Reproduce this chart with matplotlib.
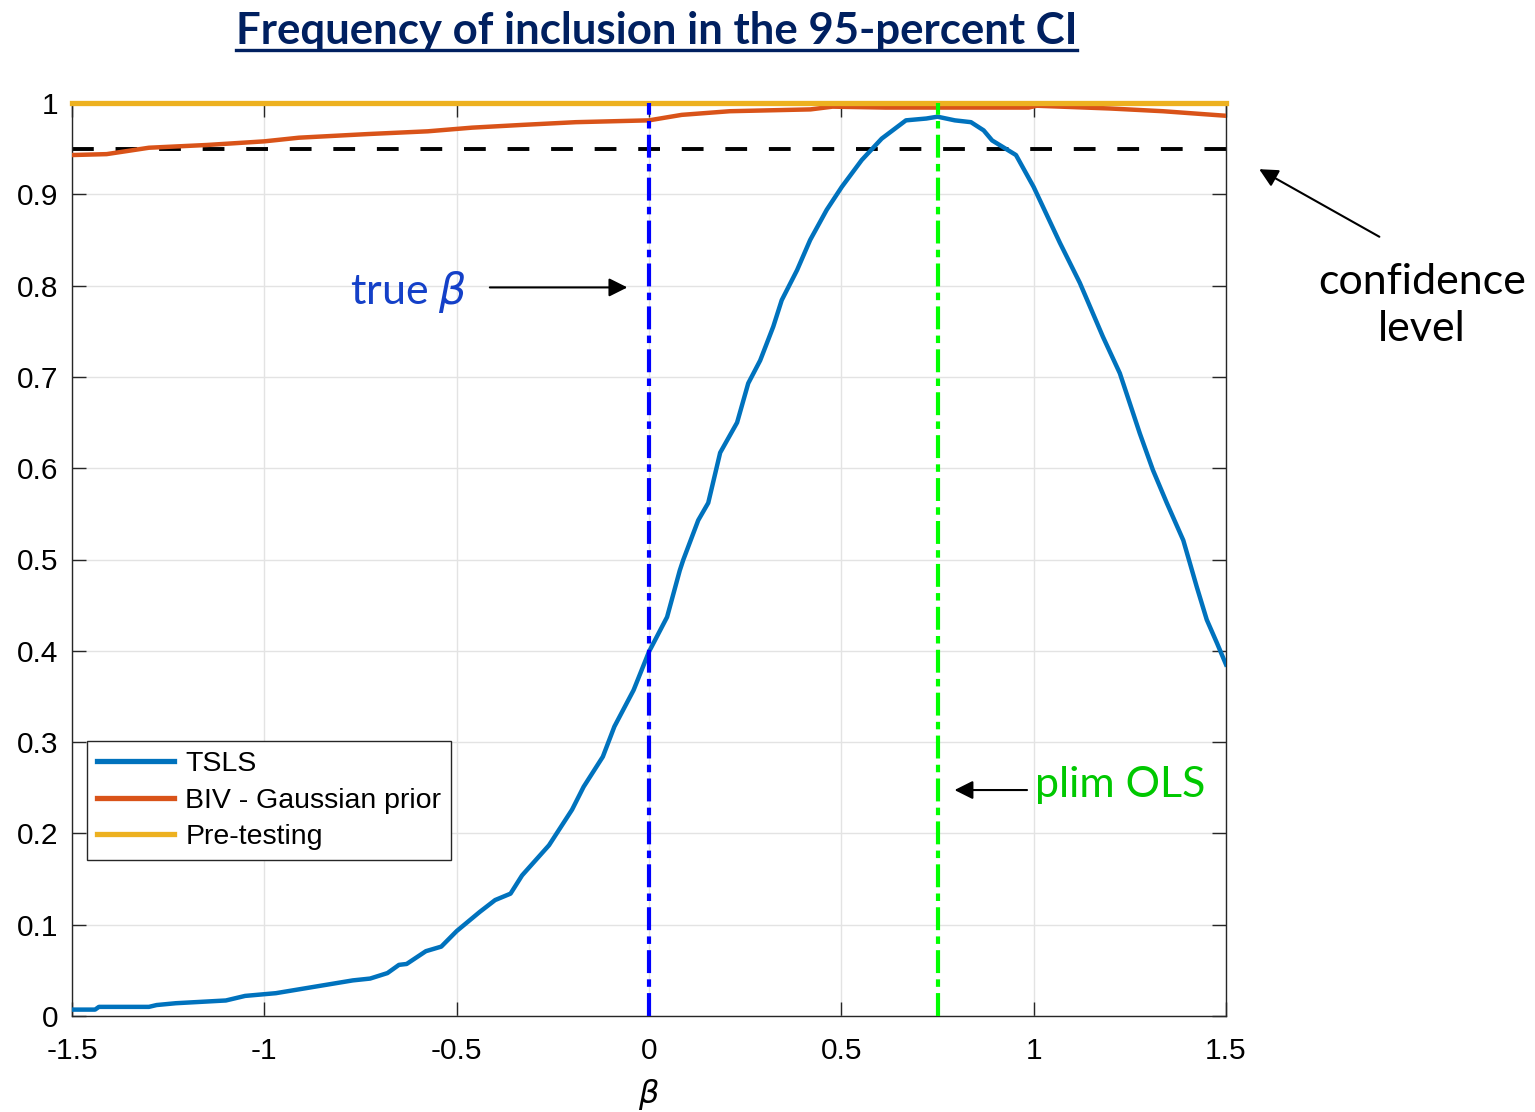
import numpy as np
import matplotlib
matplotlib.use('Agg')
import matplotlib.pyplot as plt
from matplotlib.lines import Line2D

# data
tsls_x = [-1.5, -1.44, -1.43, -1.3, -1.28, -1.23, -1.1, -1.05, -0.97, -0.87,
          -0.77, -0.725, -0.68, -0.65, -0.63, -0.58, -0.54, -0.5, -0.44, -0.4,
          -0.36, -0.33, -0.26, -0.2, -0.17, -0.12, -0.09, -0.04, 0.0, 0.047,
          0.08, 0.089, 0.128, 0.154, 0.185, 0.229, 0.258, 0.289, 0.323, 0.345,
          0.385, 0.419, 0.462, 0.501, 0.553, 0.605, 0.668, 0.721, 0.75, 0.795,
          0.837, 0.87, 0.892, 0.954, 1.0, 1.068, 1.12, 1.18, 1.224, 1.276,
          1.31, 1.346, 1.389, 1.424, 1.45, 1.477, 1.5]
tsls_y = [0.007, 0.007, 0.010, 0.010, 0.012, 0.014, 0.017, 0.022, 0.025, 0.032,
          0.039, 0.041, 0.047, 0.056, 0.057, 0.071, 0.076, 0.093, 0.114, 0.127,
          0.134, 0.154, 0.187, 0.226, 0.251, 0.284, 0.317, 0.357, 0.399, 0.437,
          0.488, 0.4995, 0.543, 0.562, 0.617, 0.65, 0.693, 0.718, 0.755, 0.784,
          0.817, 0.85, 0.883, 0.908, 0.9375, 0.961, 0.981, 0.983, 0.985, 0.981,
          0.979, 0.97, 0.959, 0.943, 0.908, 0.847, 0.803, 0.744, 0.704, 0.638,
          0.598, 0.562, 0.521, 0.47, 0.434, 0.408, 0.385]

biv_x = [-1.5, -1.41, -1.30, -1.15, -1.0, -0.91, -0.73, -0.575, -0.46, -0.33,
         -0.19, 0.0, 0.085, 0.21, 0.42, 0.477, 0.615, 0.987, 1.008, 1.198,
         1.336, 1.5]
biv_y = [0.943, 0.944, 0.951, 0.954, 0.958, 0.962, 0.966, 0.969, 0.973, 0.976,
         0.979, 0.981, 0.987, 0.991, 0.993, 0.996, 0.995, 0.995, 0.997, 0.994,
         0.991, 0.986]

pre_x = [-1.5, 1.5]
pre_y = [1.0, 1.0]

true_beta = 0.0
plim_ols = 0.75
conf_level = 0.95

xticks = [-1.5, -1, -0.5, 0, 0.5, 1, 1.5]
xtick_labels = ['-1.5', '-1', '-0.5', '0', '0.5', '1', '1.5']
yticks = [0, 0.1, 0.2, 0.3, 0.4, 0.5, 0.6, 0.7, 0.8, 0.9, 1]
ytick_labels = ['0', '0.1', '0.2', '0.3', '0.4', '0.5', '0.6', '0.7', '0.8', '0.9', '1']

plt.rcParams['font.family'] = ['Liberation Sans', 'DejaVu Sans']
ann_font = ['Lato', 'DejaVu Sans']

fig = plt.figure(figsize=(15.35, 11.12), dpi=100)
ax = fig.add_axes([72/1535, 1-1016/1112, (1226-72)/1535, (1016-103)/1112])

ax.plot(tsls_x, tsls_y, color='#0072BD', lw=3.2, label='TSLS', zorder=3)
ax.plot(biv_x, biv_y, color='#D95319', lw=3.2, label='BIV - Gaussian prior', zorder=3)
ax.plot(pre_x, pre_y, color='#EDB120', lw=3.8, label='Pre-testing', zorder=4, clip_on=False)

ax.axhline(conf_level, color='k', lw=2.8, ls=(0, (5.6, 5.6)), zorder=2)
ax.axvline(true_beta, color='#0000FF', lw=3, ls=(0, (5.5, 1.5, 1.8, 1.5)), zorder=5)
ax.axvline(plim_ols, color='#00FF00', lw=3, ls=(0, (5.5, 1.5, 1.8, 1.5)), zorder=5)

ax.set_xlim(-1.5, 1.5)
ax.set_ylim(0, 1)
ax.set_xticks(xticks)
ax.set_xticklabels(xtick_labels)
ax.set_yticks(yticks)
ax.set_yticklabels(ytick_labels)
ax.tick_params(direction='in', length=10, width=1, labelsize=21.5, top=True, right=True,
               color='#262626')
ax.tick_params(axis='x', pad=15)
ax.tick_params(axis='y', pad=10)
ax.grid(True, color='#e3e3e3', lw=1)
ax.set_axisbelow(True)
for s in ax.spines.values():
    s.set_color('#262626')
    s.set_linewidth(1)
ax.set_xlabel(r'$\beta$', fontsize=23, labelpad=9)

leg = ax.legend(loc='lower left', bbox_to_anchor=(0.013, 0.171), fontsize=20.5,
                frameon=True, fancybox=False, edgecolor='#262626', framealpha=1,
                handlelength=2.7, handletextpad=0.4, borderpad=0.35, labelspacing=0.36,
                borderaxespad=0)
leg.get_frame().set_linewidth(1)
for l in leg.get_lines():
    l.set_linewidth(3.8)

# annotations
ax.text(-0.473, 0.793, r'true $\beta$', color='#1440C8', fontsize=31, family=ann_font,
        ha='right', va='center')
ax.annotate('', xy=(-0.049, 0.798), xytext=(-0.421, 0.798),
            arrowprops=dict(arrowstyle='-|>', color='k', lw=1.5, mutation_scale=28))
ax.text(1.003, 0.253, 'plim OLS', color='#00C800', fontsize=31, family=ann_font,
        ha='left', va='center')
ax.annotate('', xy=(0.787, 0.2475), xytext=(0.99, 0.2475),
            arrowprops=dict(arrowstyle='-|>', color='k', lw=1.5, mutation_scale=28))
ax.text(2.009, 0.778, 'confidence\nlevel', color='k', fontsize=31, family=ann_font,
        ha='center', va='center', linespacing=1.3, clip_on=False)
ax.annotate('', xy=(1.58, 0.929), xytext=(1.905, 0.852), annotation_clip=False,
            arrowprops=dict(arrowstyle='-|>', color='k', lw=1.5, mutation_scale=28))

# title with underline
title = fig.text(0.4277, 0.972, 'Frequency of inclusion in the 95-percent CI',
                 color='#002060', fontsize=31.5, fontweight='bold', family=ann_font,
                 ha='center', va='center')
fig.canvas.draw()
bb = title.get_window_extent().transformed(fig.transFigure.inverted())
fig.add_artist(Line2D([bb.x0, bb.x1], [1-50/1112, 1-50/1112], color='#002060', lw=2.4,
                      transform=fig.transFigure))

fig.savefig('out.png', dpi=100)
